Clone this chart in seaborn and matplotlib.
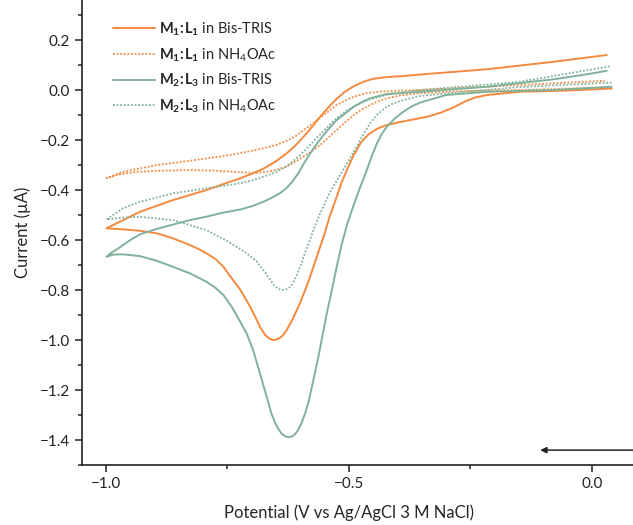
import matplotlib
matplotlib.use("Agg")
import matplotlib.pyplot as plt
from matplotlib.ticker import MultipleLocator
import numpy as np
import pandas as pd
import seaborn as sns

# ---- cyclic voltammograms (potential in V, current in uA) ----
# M1:L1 in Bis-TRIS: cathodic sweep (right -> left) then anodic return
m1l1_bis_x = [0.041, -0.05, -0.148, -0.216, -0.24, -0.26, -0.285, -0.31, -0.335, -0.36,
              -0.40, -0.425, -0.442, -0.46, -0.475, -0.49, -0.504, -0.515, -0.525, -0.54,
              -0.552, -0.563, -0.573, -0.582, -0.59, -0.60, -0.607, -0.618, -0.628, -0.636,
              -0.645, -0.655, -0.663, -0.672, -0.683, -0.693, -0.703, -0.714, -0.724, -0.744,
              -0.758, -0.775, -0.793, -0.81, -0.827, -0.862, -0.895, -0.93, -0.965, -0.999,
              -0.978, -0.93, -0.862, -0.793, -0.745, -0.724, -0.70, -0.676, -0.65, -0.628,
              -0.61, -0.59, -0.575, -0.559, -0.54, -0.525, -0.508, -0.49, -0.47, -0.45,
              -0.42, -0.388, -0.353, -0.216, -0.078, 0.031]
m1l1_bis_y = [0.006, -0.002, -0.007, -0.02, -0.03, -0.045, -0.07, -0.09, -0.105, -0.115,
              -0.13, -0.142, -0.155, -0.178, -0.21, -0.26, -0.32, -0.37, -0.427, -0.51,
              -0.587, -0.65, -0.707, -0.76, -0.80, -0.85, -0.88, -0.925, -0.96, -0.982,
              -0.995, -1.0, -0.995, -0.98, -0.947, -0.905, -0.867, -0.83, -0.797, -0.745,
              -0.707, -0.675, -0.653, -0.635, -0.62, -0.593, -0.573, -0.563, -0.557, -0.553,
              -0.533, -0.487, -0.44, -0.40, -0.367, -0.353, -0.335, -0.315, -0.285, -0.253,
              -0.222, -0.18, -0.145, -0.107, -0.065, -0.035, -0.007, 0.015, 0.033, 0.045,
              0.052, 0.056, 0.062, 0.083, 0.113, 0.14]

# M1:L1 in NH4OAc
m1l1_nh4_x = [0.03, -0.148, -0.28, -0.353, -0.39, -0.422, -0.44, -0.456, -0.475, -0.49,
              -0.508, -0.525, -0.542, -0.559, -0.58, -0.607, -0.625, -0.642, -0.665, -0.689,
              -0.724, -0.78, -0.827, -0.895, -0.94, -0.975, -0.999,
              -0.965, -0.895, -0.827, -0.745, -0.70, -0.676, -0.65, -0.63, -0.61, -0.593,
              -0.575, -0.559, -0.54, -0.525, -0.505, -0.49, -0.465, -0.442, -0.40, -0.353,
              -0.148, 0.027]
m1l1_nh4_y = [0.01, 0.0, -0.005, -0.013, -0.02, -0.033, -0.045, -0.06, -0.08, -0.1,
              -0.13, -0.16, -0.19, -0.22, -0.25, -0.283, -0.303, -0.315, -0.326, -0.331,
              -0.329, -0.322, -0.32, -0.323, -0.328, -0.338, -0.353,
              -0.327, -0.30, -0.283, -0.26, -0.243, -0.233, -0.22, -0.205, -0.185, -0.16,
              -0.135, -0.11, -0.083, -0.06, -0.04, -0.027, -0.013, -0.007, -0.003, 0.0,
              0.02, 0.037]

# M2:L3 in Bis-TRIS
m2l3_bis_x = [0.041, -0.08, -0.216, -0.30, -0.353, -0.37, -0.388, -0.405, -0.422, -0.433,
              -0.442, -0.452, -0.463, -0.477, -0.49, -0.504, -0.515, -0.525, -0.535, -0.545,
              -0.552, -0.562, -0.573, -0.582, -0.59, -0.598, -0.606, -0.614, -0.622, -0.63,
              -0.638, -0.645, -0.652, -0.66, -0.669, -0.683, -0.697, -0.71, -0.724, -0.74,
              -0.758, -0.775, -0.793, -0.81, -0.827, -0.862, -0.895, -0.93, -0.965, -0.985,
              -0.999,
              -0.99, -0.98, -0.97, -0.95, -0.93, -0.895, -0.86, -0.827, -0.79, -0.758,
              -0.724, -0.70, -0.676, -0.66, -0.642, -0.627, -0.614, -0.603, -0.593, -0.58,
              -0.566, -0.545, -0.525, -0.505, -0.49, -0.47, -0.456, -0.422, -0.353, -0.216,
              -0.078, -0.01, 0.031]
m2l3_bis_y = [0.013, 0.0, -0.007, -0.02, -0.05, -0.065, -0.087, -0.113, -0.147, -0.178,
              -0.213, -0.26, -0.32, -0.39, -0.46, -0.54, -0.62, -0.707, -0.8, -0.89,
              -0.96, -1.06, -1.16, -1.24, -1.293, -1.335, -1.365, -1.382, -1.388, -1.386,
              -1.375, -1.355, -1.33, -1.29, -1.227, -1.133, -1.04, -0.975, -0.925, -0.87,
              -0.82, -0.79, -0.767, -0.75, -0.733, -0.707, -0.683, -0.664, -0.657, -0.658,
              -0.667,
              -0.652, -0.64, -0.627, -0.60, -0.577, -0.555, -0.537, -0.52, -0.505, -0.49,
              -0.478, -0.465, -0.447, -0.432, -0.413, -0.39, -0.36, -0.33, -0.295, -0.255,
              -0.215, -0.163, -0.12, -0.09, -0.067, -0.045, -0.033, -0.016, -0.007, 0.013,
              0.043, 0.063, 0.077]

# M2:L3 in NH4OAc
m2l3_nh4_x = [0.041, -0.148, -0.28, -0.353, -0.388, -0.41, -0.422, -0.44, -0.456, -0.47,
              -0.484, -0.498, -0.518, -0.539, -0.559, -0.57, -0.58, -0.59, -0.597, -0.607,
              -0.615, -0.622, -0.63, -0.638, -0.646, -0.655, -0.665, -0.676, -0.69, -0.71,
              -0.745, -0.793, -0.862, -0.93, -0.965, -0.999,
              -0.965, -0.93, -0.862, -0.793, -0.724, -0.70, -0.676, -0.65, -0.628, -0.607,
              -0.587, -0.568, -0.55, -0.535, -0.52, -0.505, -0.49, -0.47, -0.456, -0.42,
              -0.353, -0.148, 0.041]
m2l3_nh4_y = [0.03, 0.012, -0.01, -0.024, -0.04, -0.055, -0.067, -0.095, -0.133, -0.178,
              -0.227, -0.275, -0.34, -0.41, -0.493, -0.545, -0.6, -0.65, -0.69, -0.74,
              -0.772, -0.789, -0.798, -0.80, -0.795, -0.778, -0.75, -0.72, -0.685, -0.653,
              -0.61, -0.56, -0.52, -0.507, -0.51, -0.517,
              -0.473, -0.447, -0.413, -0.393, -0.373, -0.362, -0.347, -0.328, -0.305, -0.272,
              -0.235, -0.195, -0.16, -0.13, -0.105, -0.083, -0.065, -0.048, -0.037, -0.018,
              0.0, 0.033, 0.096]

labels = [r"$\mathbf{M_1}\!\mathbf{:}\!\mathbf{L_1}$ in Bis-TRIS",
          r"$\mathbf{M_1}\!\mathbf{:}\!\mathbf{L_1}$ in NH$_4$OAc",
          r"$\mathbf{M_2}\!\mathbf{:}\!\mathbf{L_3}$ in Bis-TRIS",
          r"$\mathbf{M_2}\!\mathbf{:}\!\mathbf{L_3}$ in NH$_4$OAc"]

x_ticks = [-1.0, -0.5, 0.0]
y_ticks = [0.2, 0.0, -0.2, -0.4, -0.6, -0.8, -1.0, -1.2, -1.4]

sns.set_style("ticks")
plt.rcParams["font.family"] = ["Lato", "DejaVu Sans"]
plt.rcParams["mathtext.fontset"] = "custom"
plt.rcParams["mathtext.rm"] = "Lato"
plt.rcParams["mathtext.bf"] = "Lato:bold"
plt.rcParams["axes.unicode_minus"] = True

ORANGE = "#F5893D"
GREEN = "#80B19B"

fig = plt.figure(figsize=(6.33, 5.25), dpi=100)
ax = fig.add_axes([0.129, 0.114, 0.871, 0.886])

curves = [
    (m1l1_bis_x, m1l1_bis_y, ORANGE, "-", 1.4),
    (m1l1_nh4_x, m1l1_nh4_y, ORANGE, (0, (1, 1)), 1.3),
    (m2l3_bis_x, m2l3_bis_y, GREEN, "-", 1.4),
    (m2l3_nh4_x, m2l3_nh4_y, GREEN, (0, (1, 1)), 1.3),
]
for (xs, ys, col, ls, lw), lab in zip(curves, labels):
    df = pd.DataFrame({"E": xs, "I": ys})
    sns.lineplot(data=df, x="E", y="I", sort=False, estimator=None, color=col,
                 linestyle=ls, linewidth=lw, label=lab, ax=ax)

ax.set_xlim(-1.05, 0.085)
ax.set_ylim(-1.5, 0.36)
ax.set_xticks(x_ticks)
ax.set_yticks(y_ticks)
ax.xaxis.set_minor_locator(MultipleLocator(0.25))
ax.yaxis.set_minor_locator(MultipleLocator(0.1))
ax.tick_params(which="major", direction="out", length=5, width=1.1, labelsize=11,
               colors="#222222")
ax.tick_params(which="minor", direction="out", length=3, width=1.1)
for side in ("top", "right"):
    ax.spines[side].set_visible(False)
for side in ("left", "bottom"):
    ax.spines[side].set_linewidth(1.2)
    ax.spines[side].set_color("#222222")

ax.set_xlabel("Potential (V vs Ag/AgCl 3 M NaCl)", fontsize=12, labelpad=10)
ax.xaxis.set_label_coords(0.484, -0.085)
ax.set_ylabel("Current (\u00b5A)", fontsize=12, labelpad=6)

# scan direction
ax.annotate("", xy=(-0.106, -1.44), xytext=(0.09, -1.44),
            arrowprops=dict(arrowstyle="-|>", color="#222222", lw=1.1,
                            mutation_scale=9, shrinkA=0, shrinkB=0),
            annotation_clip=False)

ax.legend(loc="upper left", bbox_to_anchor=(0.035, 0.981), frameon=False, fontsize=10.5,
          handlelength=2.9, handletextpad=0.25, labelspacing=0.55, borderaxespad=0.4)

fig.savefig("out.png", dpi=100)
